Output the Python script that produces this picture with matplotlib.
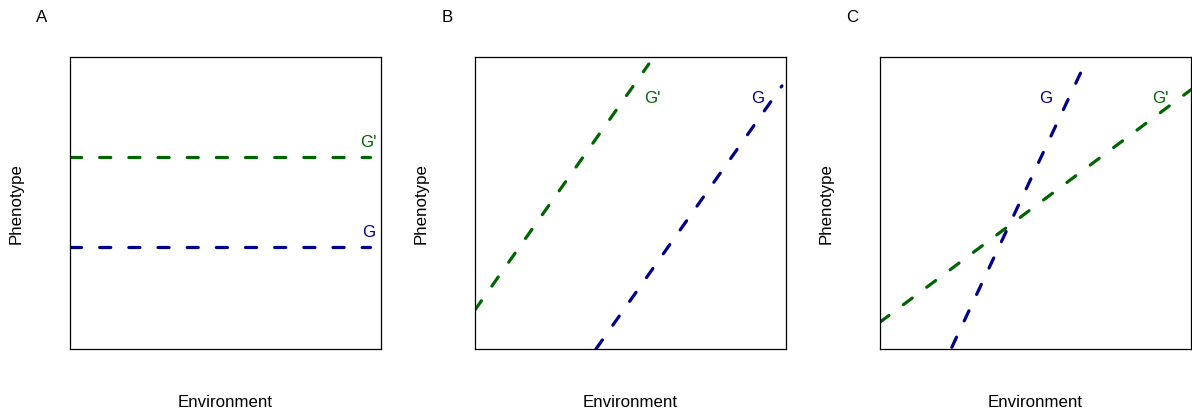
import matplotlib
matplotlib.use('Agg')
import matplotlib.pyplot as plt

plt.rcParams['font.family'] = ['Liberation Sans', 'DejaVu Sans']
plt.rcParams['lines.scale_dashes'] = False

# Dados (escala 0-10 em ambos os eixos)
panel_letters = ['A', 'B', 'C']

# Painel A: linhas horizontais
a_x = [0.0, 9.65]
a_g = [3.49, 3.49]
a_gp = [6.58, 6.58]

# Painel B: linhas paralelas
b_g_x = [3.89, 9.87]
b_g_y = [0.0, 9.01]
b_gp_x = [0.0, 5.59]
b_gp_y = [1.34, 9.76]

# Painel C: linhas que se cruzam
c_g_x = [2.31, 6.69]
c_g_y = [0.06, 10.0]
c_gp_x = [0.0, 10.0]
c_gp_y = [0.92, 8.88]

# Posicoes dos rotulos G e G'
label_pos = {
    'A': {'G': (9.61, 4.01), "G'": (9.61, 7.09)},
    'B': {'G': (9.10, 8.60), "G'": (5.69, 8.60)},
    'C': {'G': (5.32, 8.60), "G'": (9.00, 8.60)},
}

green = '#006400'
blue = '#00008B'
fs = 12.2

fig = plt.figure(figsize=(11.92, 4.14), dpi=100)
W, H = 1192, 414
lefts = [70, 475, 880]
axes = []
for i, left in enumerate(lefts):
    ax = fig.add_axes([left / W, (H - 350) / H, 311 / W, 292 / H])
    ax.set_xlim(0, 10)
    ax.set_ylim(0, 10)
    ax.set_xticks([])
    ax.set_yticks([])
    for s in ax.spines.values():
        s.set_linewidth(0.9)
    # rotulos dos eixos em posicao fixa
    fig.text((left + 155.5) / W, (H - 403) / H, 'Environment', fontsize=fs,
             ha='center', va='center')
    fig.text((left - 54) / W, (H - 204) / H, 'Phenotype', fontsize=fs,
             ha='center', va='center', rotation=90)
    fig.text((left - 28) / W, (H - 18) / H, panel_letters[i], fontsize=fs,
             ha='center', va='center')
    axes.append(ax)

style = dict(linewidth=2.3, linestyle=(0, (8, 13)), dash_capstyle='round')

axes[0].plot(a_x, a_gp, color=green, **style)
axes[0].plot(a_x, a_g, color=blue, **style)
axes[1].plot(b_gp_x, b_gp_y, color=green, **style)
axes[1].plot(b_g_x, b_g_y, color=blue, **style)
axes[2].plot(c_gp_x, c_gp_y, color=green, **style)
axes[2].plot(c_g_x, c_g_y, color=blue, **style)

for ax, p in zip(axes, panel_letters):
    for name, (x, y) in label_pos[p].items():
        ax.text(x, y, name, color=green if name == "G'" else blue,
                fontsize=fs, ha='center', va='center')

fig.savefig('out.png', dpi=100)
